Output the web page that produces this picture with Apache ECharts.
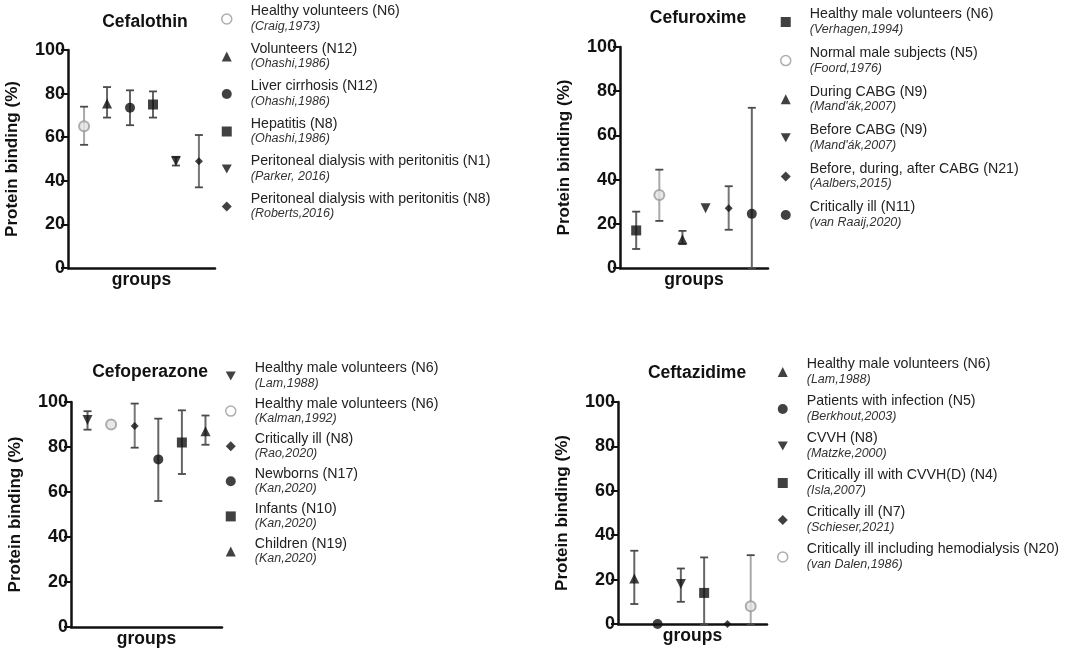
<!DOCTYPE html>
<html>
<head>
<meta charset="utf-8">
<script src="https://cdn.jsdelivr.net/npm/echarts/dist/echarts.min.js"></script>
<style>
html, body { margin: 0; background: #fff; }
#chart { width: 1072px; height: 654px; }
</style>
</head>
<body>
<div id="chart"></div>
<script>
// Cefalothin
var cefalothinGroups = ['Healthy volunteers (N6)', 'Volunteers (N12)', 'Liver cirrhosis (N12)', 'Hepatitis (N8)', 'Peritoneal dialysis with peritonitis (N1)', 'Peritoneal dialysis with peritonitis (N8)'];
var cefalothinRefs = ['(Craig,1973)', '(Ohashi,1986)', '(Ohashi,1986)', '(Ohashi,1986)', '(Parker, 2016)', '(Roberts,2016)'];
var cefalothinMean = [65, 75.5, 73.5, 75, 49, 49];
var cefalothinLow = [56.5, 69, 65.5, 69, 47, 37];
var cefalothinHigh = [74, 83, 81.5, 81, 51, 61];

// Cefuroxime
var cefuroximeGroups = ['Healthy male volunteers (N6)', 'Normal male subjects (N5)', 'During CABG (N9)', 'Before CABG (N9)', 'Before, during, after CABG (N21)', 'Critically ill (N11)'];
var cefuroximeRefs = ['(Verhagen,1994)', '(Foord,1976)', "(Mand'ák,2007)", "(Mand'ák,2007)", '(Aalbers,2015)', '(van Raaij,2020)'];
var cefuroximeMean = [17, 33, 13, 27, 27, 24.5];
var cefuroximeLow = [8.6, 21.3, 10.8, null, 17.3, 0];
var cefuroximeHigh = [25.5, 44.5, 16.8, null, 37, 72.5];

// Cefoperazone
var cefoperazoneGroups = ['Healthy male volunteers (N6)', 'Healthy male volunteers (N6)', 'Critically ill (N8)', 'Newborns (N17)', 'Infants (N10)', 'Children (N19)'];
var cefoperazoneRefs = ['(Lam,1988)', '(Kalman,1992)', '(Rao,2020)', '(Kan,2020)', '(Kan,2020)', '(Kan,2020)'];
var cefoperazoneMean = [92, 90, 89.3, 74.5, 82, 87];
var cefoperazoneLow = [87.7, null, 79.7, 56, 68, 81];
var cefoperazoneHigh = [95.9, null, 99.3, 92.6, 96.3, 94];

// Ceftazidime
var ceftazidimeGroups = ['Healthy male volunteers (N6)', 'Patients with infection (N5)', 'CVVH (N8)', 'Critically ill with CVVH(D) (N4)', 'Critically ill (N7)', 'Critically ill including hemodialysis (N20)'];
var ceftazidimeRefs = ['(Lam,1988)', '(Berkhout,2003)', '(Matzke,2000)', '(Isla,2007)', '(Schieser,2021)', '(van Dalen,1986)'];
var ceftazidimeMean = [20.5, 0, 18, 14, 0, 8];
var ceftazidimeLow = [9, null, 10, 0, null, 0];
var ceftazidimeHigh = [33, null, 25, 30, null, 31];

var yTicks = [0, 20, 40, 60, 80, 100];

// marker styles
var markers = {
    grey: { symbol: 'circle', size: 10, itemStyle: { color: '#e2e2e2', borderColor: '#9a9a9a', borderWidth: 2 }, bar: '#a9a9a9',
            legend: { color: '#fff', borderColor: '#9a9a9a', borderWidth: 1.5 } },
    tri: { symbol: 'triangle', size: 10, itemStyle: { color: '#111' }, bar: '#666' },
    circ: { symbol: 'circle', size: 10, itemStyle: { color: '#111' }, bar: '#666' },
    rect: { symbol: 'rect', size: 10, itemStyle: { color: '#111' }, bar: '#666' },
    down: { symbol: 'path://M0,0L10,0L5,9Z', size: 10, itemStyle: { color: '#111' }, bar: '#666' },
    dia: { symbol: 'diamond', size: 8, itemStyle: { color: '#111' }, bar: '#777' }
};

var panels = [
    { title: 'Cefalothin', groups: cefalothinGroups, refs: cefalothinRefs, mean: cefalothinMean, low: cefalothinLow, high: cefalothinHigh,
      marks: ['grey', 'tri', 'circ', 'rect', 'down', 'dia'],
      grid: { left: 68, top: 50, width: 147, height: 218 }, tx: 140, ty: 8, lx: 221, ly: 4.5, gap: 9 },
    { title: 'Cefuroxime', groups: cefuroximeGroups, refs: cefuroximeRefs, mean: cefuroximeMean, low: cefuroximeLow, high: cefuroximeHigh,
      marks: ['rect', 'grey', 'tri', 'down', 'dia', 'circ'],
      grid: { left: 620, top: 47, width: 148, height: 221 }, tx: 693, ty: 4, lx: 780, ly: 7.5, gap: 10.1 },
    { title: 'Cefoperazone', groups: cefoperazoneGroups, refs: cefoperazoneRefs, mean: cefoperazoneMean, low: cefoperazoneLow, high: cefoperazoneHigh,
      marks: ['down', 'grey', 'dia', 'circ', 'rect', 'tri'],
      grid: { left: 71, top: 402, width: 151, height: 225 }, tx: 145, ty: 358, lx: 225, ly: 361.5, gap: 6.6 },
    { title: 'Ceftazidime', groups: ceftazidimeGroups, refs: ceftazidimeRefs, mean: ceftazidimeMean, low: ceftazidimeLow, high: ceftazidimeHigh,
      marks: ['tri', 'circ', 'down', 'rect', 'dia', 'grey'],
      grid: { left: 618, top: 402, width: 149, height: 222 }, tx: 692, ty: 359, lx: 777, ly: 357.5, gap: 8.5 }
];

var FONT = '"Liberation Sans", Arial, sans-serif';
var labelOf = {};

var grids = [], xAxes = [], yAxes = [], titles = [], legends = [], series = [];

panels.forEach(function (p, pi) {
    grids.push(Object.assign({ outerBoundsMode: 'none' }, p.grid));
    titles.push({
        text: p.title, left: p.tx, top: p.ty, textAlign: 'center',
        textStyle: { fontFamily: FONT, fontSize: 17.5, fontWeight: 'bold', color: '#111' }
    });
    xAxes.push({
        type: 'value', gridIndex: pi, min: 0.3, max: 6.7,
        name: 'groups', nameLocation: 'middle', nameGap: 3,
        nameTextStyle: { fontFamily: FONT, fontSize: 17.5, fontWeight: 'bold', color: '#111', verticalAlign: 'top' },
        axisLine: { show: true, onZero: false, lineStyle: { color: '#111', width: 2.5 } },
        axisTick: { show: false }, axisLabel: { show: false }, splitLine: { show: false }
    });
    yAxes.push({
        type: 'value', gridIndex: pi, min: yTicks[0], max: yTicks[yTicks.length - 1], interval: 20,
        name: 'Protein binding (%)', nameLocation: 'middle', nameGap: 47,
        nameTextStyle: { fontFamily: FONT, fontSize: 17, fontWeight: 'bold', color: '#111' },
        axisLine: { show: true, lineStyle: { color: '#111', width: 2.5 } },
        axisTick: { show: true, length: 7, lineStyle: { color: '#111', width: 2 } },
        axisLabel: { margin: 3, fontFamily: FONT, fontSize: 18, fontWeight: 'bold', color: '#111' },
        splitLine: { show: false }
    });

    var keys = [];
    var bars = [], barColors = [];
    p.groups.forEach(function (g, i) {
        var key = 'p' + pi + '_' + i;
        var m = markers[p.marks[i]];
        keys.push(m.legend ? { name: key, itemStyle: m.legend } : key);
        labelOf[key] = '{a|' + g + '}\n{b|' + p.refs[i] + '}';
        series.push({
            type: 'scatter', name: key, xAxisIndex: pi, yAxisIndex: pi,
            data: [[i + 1, p.mean[i]]], symbol: m.symbol, symbolSize: m.size,
            itemStyle: m.itemStyle, clip: false, z: 4, silent: true
        });
        if (p.low[i] != null) {
            bars.push([i + 1, p.low[i], p.high[i]]);
            barColors.push(m.bar);
        }
    });

    // error bars
    series.push({
        type: 'custom', xAxisIndex: pi, yAxisIndex: pi, data: bars, z: 3, silent: true, clip: false,
        renderItem: function (params, api) {
            var x = api.value(0);
            var lo = api.coord([x, api.value(1)]);
            var hi = api.coord([x, api.value(2)]);
            var col = barColors[params.dataIndex];
            var st = { stroke: col, lineWidth: 2 };
            var capSt = { stroke: '#4a4a4a', lineWidth: 1.8 };
            return {
                type: 'group', children: [
                    { type: 'line', shape: { x1: lo[0], y1: lo[1], x2: hi[0], y2: hi[1] }, style: st },
                    { type: 'line', shape: { x1: hi[0] - 4, y1: hi[1], x2: hi[0] + 4, y2: hi[1] }, style: capSt },
                    { type: 'line', shape: { x1: lo[0] - 4, y1: lo[1], x2: lo[0] + 4, y2: lo[1] }, style: capSt }
                ]
            };
        }
    });

    legends.push({
        data: keys, orient: 'vertical', left: p.lx, top: p.ly, padding: 0,
        itemWidth: 10, itemHeight: 10, itemGap: p.gap, selectedMode: false,
        formatter: function (name) { return labelOf[name]; },
        textStyle: {
            rich: {
                a: { fontFamily: FONT, fontSize: 14.2, lineHeight: 15, color: '#222', padding: [0, 0, 0, 14] },
                b: { fontFamily: FONT, fontSize: 12.5, fontStyle: 'italic', lineHeight: 15, color: '#333', padding: [0, 0, 0, 14] }
            }
        }
    });
});

var myChart = echarts.init(document.getElementById('chart'));
myChart.setOption({
    backgroundColor: '#fff',
    animation: false,
    title: titles,
    legend: legends,
    grid: grids,
    xAxis: xAxes,
    yAxis: yAxes,
    series: series
});
</script>
</body>
</html>
